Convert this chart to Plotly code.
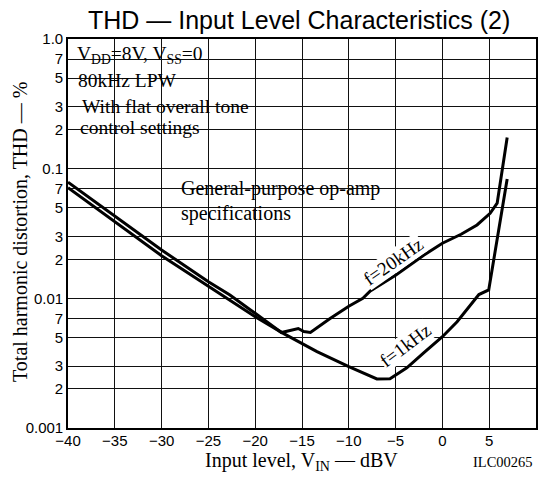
import plotly.graph_objects as go

# ---- data ----
x_1k = [-40, -35, -30, -25, -20, -17, -13.4, -10, -8.4, -7, -5.6, -5, -3.8, -2, 0, 1.57, 3.0, 3.9, 4.95, 5.3, 5.7, 6.2, 6.6, 6.92]
thd_1k = [0.0714, 0.0390, 0.0213, 0.0124, 0.00721, 0.00537, 0.00388, 0.00297, 0.00264, 0.00239, 0.00240, 0.00255, 0.00291, 0.0038,
          0.00506, 0.0066, 0.00888, 0.0107, 0.0116, 0.0165, 0.026, 0.043, 0.063, 0.0834]

x_20k = [-40, -35, -30, -25, -22.7, -20.5, -18.5, -17.2, -16.5, -15.9, -15.4, -14.8, -14.1, -12, -10, -8.5, -7.7, -5, -3.4, -2, 0,
         2, 3.7, 5.1, 5.85, 6.92]
thd_20k = [0.0787, 0.0430, 0.0236, 0.0134, 0.0106, 0.00814, 0.0064, 0.00545, 0.0056, 0.0057, 0.00585, 0.00555, 0.00546, 0.0070,
           0.0087, 0.0100, 0.0114, 0.0151, 0.0183, 0.0215, 0.0266, 0.0312, 0.0368, 0.0453, 0.0542, 0.174]

x_ticks = [-40, -35, -30, -25, -20, -15, -10, -5, 0, 5, 10]
x_ticktext = ["\u221240", "\u221235", "\u221230", "\u221225", "\u221220", "\u221215", "\u221210", "\u22125", "0", "5", "10"]
y_ticks = [0.001, 0.002, 0.003, 0.005, 0.007, 0.01, 0.02, 0.03, 0.05, 0.07, 0.1, 0.2, 0.3, 0.5, 0.7, 1.0]
y_ticktext = ["0.001", "2", "3", "5", "7", "0.01", "2", "3", "5", "7", "0.1", "2", "3", "5", "7", "1.0"]

# ---- layout geometry ----
W, H = 543, 477
ML, MR, MT, MB = 68, 7, 39, 49
PW, PH = W - ML - MR, H - MT - MB


def px(x):
    return (x - ML) / PW


def py(y):
    return (H - MB - y) / PH


SERIF = "Liberation Serif, Times New Roman, serif"
SANS = "Liberation Sans, Arial, sans-serif"

fig = go.Figure()
fig.add_trace(go.Scatter(x=x_20k, y=thd_20k, mode="lines", name="f=20kHz",
                         line=dict(color="black", width=3), showlegend=False))
fig.add_trace(go.Scatter(x=x_1k, y=thd_1k, mode="lines", name="f=1kHz",
                         line=dict(color="black", width=3), showlegend=False))

# white panels that blank the grid behind the notes
for (x0, x1, y0, y1) in [(74, 229, 46, 88), (80, 252, 88, 136), (166, 390, 171, 224)]:
    fig.add_shape(type="rect", xref="paper", yref="paper", x0=px(x0), x1=px(x1), y0=py(y0), y1=py(y1),
                  fillcolor="white", line=dict(width=0), layer="between")

ann = []


def note(text, x, y, size=20, family=SERIF, xanchor="left", yanchor="middle", angle=0, bg=None):
    d = dict(text=text, xref="paper", yref="paper", x=px(x), y=py(y), showarrow=False,
             xanchor=xanchor, yanchor=yanchor, textangle=angle,
             font=dict(family=family, size=size, color="black"))
    if bg:
        d["bgcolor"] = bg
        d["borderpad"] = 0
    ann.append(d)


note("THD \u2014 Input Level Characteristics (2)", 299, 20, size=25, family=SANS, xanchor="center")
note("ILC00265", 537, -5, size=14.5, xanchor="right")
note("V<sub>DD</sub>=8V, V<sub>SS</sub>=0", 75, 55, size=19.5)
note("80kHz LPW", 76, 80, size=19.5)
note("With flat overall tone", 80, 106, size=19.5)
note("control settings", 78, 127, size=19.5)
note("General-purpose op-amp", 179, 188)
note("specifications", 179, 213)
note("f=20kHz", 393, 261, size=19, xanchor="center", angle=-35, bg="white")
note("f=1kHz", 405, 345, size=19, xanchor="center", angle=-37, bg="white")
note("Input level, V<sub>IN</sub> \u2014 dBV", 301, 461, size=20, xanchor="center")
note("ILC00265", 535, 462, size=14.5, xanchor="right")
note("Total harmonic distortion, THD \u2014 %", 20, 232, size=20, xanchor="center", angle=-90)

fig.update_layout(
    width=W, height=H,
    margin=dict(l=ML, r=MR, t=MT, b=MB, pad=0, autoexpand=False),
    paper_bgcolor="white", plot_bgcolor="white",
    annotations=ann,
    showlegend=False,
)
fig.update_xaxes(range=[-40, 10], tickvals=x_ticks, ticktext=x_ticktext, showgrid=True, automargin=False,
                 gridcolor="#111", gridwidth=1.2, zeroline=False, showline=True, mirror=True,
                 linecolor="black", linewidth=1.6, ticks="", ticklabelstandoff=-2,
                 tickfont=dict(family=SANS, size=15, color="black"))
fig.update_yaxes(type="log", range=[-3, 0], tickvals=y_ticks, ticktext=y_ticktext, showgrid=True, automargin=False,
                 gridcolor="#111", gridwidth=1.2, zeroline=False, showline=True, mirror=True,
                 linecolor="black", linewidth=1.6, ticks="",
                 tickfont=dict(family=SANS, size=15, color="black"))

fig.write_html("out.html", config={"displayModeBar": False},
               post_script="document.body.style.margin='0';")
